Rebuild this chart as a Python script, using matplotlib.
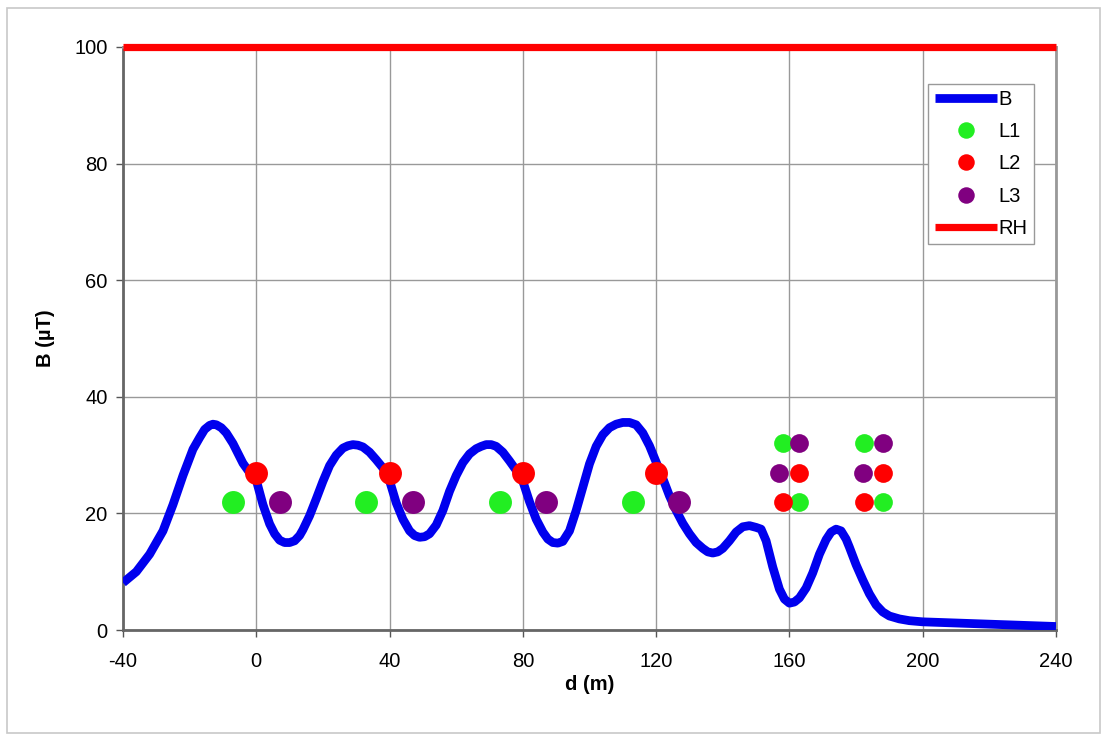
import matplotlib
matplotlib.use("Agg")
import matplotlib.pyplot as plt
from matplotlib.patches import Rectangle

plt.rcParams['font.family'] = ['Liberation Sans', 'DejaVu Sans']

# Field profile B (uT) vs distance d (m)
d_B = [-40, -36, -32, -28, -25, -22, -19, -17, -15.5, -14, -13, -12, -10.5, -9, -7, -4, -2, 0, 2, 4, 5.5, 7, 8.5, 10, 11.5, 13,
       14, 16, 18, 20, 22, 24, 26, 27.5, 29, 30.5, 32, 34, 36, 38, 40, 42, 44, 46, 47.5, 49, 50.5, 52,
       54, 56, 58, 60, 62, 64, 66, 67.5, 69, 70.5, 72, 74, 76, 78, 80, 82, 84, 86, 87.5, 89, 90.5, 92,
       94, 96, 98, 100, 102, 104, 106, 108, 110, 112, 114, 116, 118, 120, 122, 124, 126, 128, 130, 132,
       134, 135.5, 137, 138.5, 140, 142, 144, 146, 148, 150, 151.5, 153, 155, 157, 158.5, 160, 161.5, 163, 165, 167, 169, 171,
       172.5, 174, 175.5, 177, 178, 180, 182, 184, 186, 188, 190, 193, 196, 200, 210, 220, 230, 240]
B = [8.1, 10.0, 13.0, 17.0, 21.5, 26.5, 31.0, 33.0, 34.4, 35.1, 35.3, 35.2, 34.7, 33.8, 32.0, 28.6, 27.0, 25.7, 21.5, 18.2, 16.5, 15.4, 15.0, 15.0, 15.3, 16.2,
     17.2, 19.6, 22.5, 25.5, 28.2, 30.0, 31.2, 31.6, 31.8, 31.7, 31.4, 30.5, 29.2, 27.8, 25.6, 21.8, 19.0, 17.0, 16.2, 15.9, 16.0, 16.5,
     18.0, 20.5, 23.8, 26.5, 28.7, 30.2, 31.1, 31.5, 31.8, 31.8, 31.5, 30.5, 29.0, 27.4, 25.5, 22.0, 19.0, 16.8, 15.6, 15.0, 14.9, 15.2,
     17.0, 20.5, 24.5, 28.5, 31.5, 33.5, 34.7, 35.3, 35.6, 35.6, 35.2, 33.8, 31.6, 28.8, 26.0, 23.0, 20.5, 18.3, 16.5, 15.0,
     14.0, 13.4, 13.2, 13.4, 14.0, 15.3, 16.8, 17.7, 17.9, 17.6, 17.3, 15.3, 10.8, 7.0, 5.3, 4.6, 4.8, 5.5, 7.2, 9.8, 13.0, 15.5,
     16.8, 17.3, 17.0, 15.6, 14.2, 11.2, 8.6, 6.2, 4.3, 3.1, 2.4, 1.9, 1.6, 1.4, 1.2, 1.0, 0.8, 0.6]

# Conductor positions (main spans)
L1_x = [-7, 33, 73, 113]
L1_y = [22, 22, 22, 22]
L2_x = [0, 40, 80, 120]
L2_y = [27, 27, 27, 27]
L3_x = [7, 47, 87, 127]
L3_y = [22, 22, 22, 22]
# Conductor positions (compact groups)
L1c_x = [158, 163, 182.5, 188]
L1c_y = [32, 22, 32, 22]
L2c_x = [158, 163, 182.5, 188]
L2c_y = [22, 27, 22, 27]
L3c_x = [157, 163, 182, 188]
L3c_y = [27, 32, 27, 32]

RH_x = [-40, 240]
RH_y = [100, 100]

xticks = [-40, 0, 40, 80, 120, 160, 200, 240]
yticks = [0, 20, 40, 60, 80, 100]

fig = plt.figure(figsize=(11.07, 7.35), dpi=100)
fig.patches.append(Rectangle((7/1107, 2/735), 1093/1107, 725/735, transform=fig.transFigure,
                             fill=False, edgecolor='#c8c8c8', linewidth=1.2))
ax = fig.add_axes([123/1107, 105/735, 933/1107, 583/735])

ax.plot(d_B, B, color='#0000ee', lw=6.3, label='B', zorder=3, solid_capstyle='butt',
        solid_joinstyle='round')
ms_main = 16.5
ms_c = 13.5
ax.plot(L1_x, L1_y, 'o', color='#22ee22', ms=ms_main, mew=0, label='L1', zorder=4)
ax.plot(L2_x, L2_y, 'o', color='#ff0000', ms=ms_main, mew=0, label='L2', zorder=4)
ax.plot(L3_x, L3_y, 'o', color='#800080', ms=ms_main, mew=0, label='L3', zorder=4)
ax.plot(L1c_x, L1c_y, 'o', color='#22ee22', ms=ms_c, mew=0, zorder=4)
ax.plot(L2c_x, L2c_y, 'o', color='#ff0000', ms=ms_c, mew=0, zorder=4)
ax.plot(L3c_x, L3c_y, 'o', color='#800080', ms=ms_c, mew=0, zorder=4)
ax.plot(RH_x, RH_y, color='#ff0000', lw=5.2, label='RH', zorder=5, clip_on=False,
        solid_capstyle='butt')

ax.set_xlim(-40, 240)
ax.set_ylim(0, 100)
ax.set_xticks(xticks)
ax.set_yticks(yticks)
ax.set_xticklabels([str(v) for v in xticks])
ax.set_yticklabels([str(v) for v in yticks])
ax.tick_params(labelsize=14.5, direction='out', length=5, width=1, color='#555555')
ax.tick_params(axis='x', pad=10.5)
ax.tick_params(axis='y', pad=6)
ax.grid(True, color='#999999', linewidth=1)
ax.set_axisbelow(True)
for s in ['left', 'bottom']:
    ax.spines[s].set_color('#666666')
    ax.spines[s].set_linewidth(2)
for s in ['top', 'right']:
    ax.spines[s].set_color('#999999')
    ax.spines[s].set_linewidth(2)

ax.set_xlabel('d (m)', fontsize=14.5, fontweight='bold', labelpad=3)
ax.set_ylabel('B (µT)', fontsize=14.5, fontweight='bold', labelpad=14)

leg = ax.legend(loc='upper right', bbox_to_anchor=(0.976, 0.937), fontsize=14.5,
                handlelength=3.1, handletextpad=0.08, labelspacing=0.66, markerscale=0.72,
                fancybox=False, edgecolor='#999999', framealpha=1, borderpad=0.3,
                borderaxespad=0)
leg.get_frame().set_linewidth(1)

fig.savefig('out.png', dpi=100)
